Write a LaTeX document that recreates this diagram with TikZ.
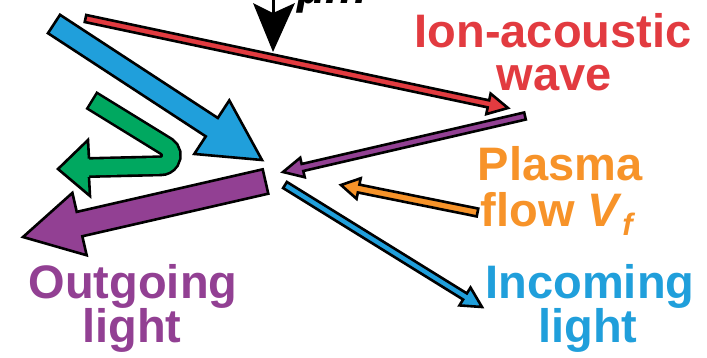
\documentclass[tikz,border=0pt]{standalone}
\usepackage{fontspec}
\setmainfont{Liberation Sans}
\usetikzlibrary{calc}

\definecolor{waveRed}{RGB}{226,59,64}
\definecolor{lightBlue}{RGB}{32,159,219}
\definecolor{flowOrange}{RGB}{247,147,41}
\definecolor{outPurple}{RGB}{146,64,147}
\definecolor{loopGreen}{RGB}{0,168,96}

\tikzset{
  arrowoutline/.style={draw=black, line width=2.6pt, line join=miter},
  captext/.style={font=\bfseries\fontsize{47}{47}\selectfont, anchor=base, inner sep=0pt},
}

% Block arrow from coordinate #1 to coordinate #2:
% #3 half shaft width, #4 half head width, #5 head length, #6 fill colour
\newcommand\fatarrow[6]{%
  \coordinate (#1-base) at ($(#2)!#5!(#1)$);
  \filldraw[arrowoutline, fill=#6]
    ($(#1)!#3!90:(#2)$) -- ($(#1-base)!#3!90:(#2)$) -- ($(#1-base)!#4!90:(#2)$)
    -- (#2)
    -- ($(#1-base)!#4!-90:(#2)$) -- ($(#1-base)!#3!-90:(#2)$) -- ($(#1)!#3!-90:(#2)$)
    -- cycle;}

\begin{document}
\begin{tikzpicture}[x=1pt,y=-1pt]
\useasboundingbox (0,0) rectangle (707,357);

% end points of the arrows
\coordinate (bigBlueS) at (54,24);
\coordinate (bigBlueE) at (262,160);
\coordinate (bigPurS) at (265.5,181.5);
\coordinate (bigPurE) at (23,237);
\coordinate (redS) at (85.5,18.5);
\coordinate (redE) at (508,108);
\coordinate (purS) at (525,116);
\coordinate (purE) at (283,172);
\coordinate (orS) at (477.5,212.5);
\coordinate (orE) at (341,185);
\coordinate (blS) at (285,185);
\coordinate (blE) at (482,307);

% wide arrows on the left
\fatarrow{bigBlueS}{bigBlueE}{11pt}{32pt}{60pt}{lightBlue}
\fatarrow{bigPurS}{bigPurE}{12.5pt}{32pt}{58pt}{outPurple}

% green hairpin arrow
\coordinate (gTail) at (91,100);
\coordinate (gTurn) at (166.5,146.5);
\coordinate (gBase) at (89,167.5);
\draw[line width=21pt, black] (gTail) -- (gTurn)
  arc[start angle=-57, end angle=90, radius=10.5] -- (gBase);
\draw[line width=15.8pt, loopGreen, shorten <=2.6pt] (gTail) -- (gTurn)
  arc[start angle=-57, end angle=90, radius=10.5] -- (gBase);
\coordinate (gTip) at (58,169);
\filldraw[arrowoutline, fill=loopGreen]
  (89,158.5) -- (88,140) -- (gTip) -- (90,196) -- (89,177);

% narrow arrows
\fatarrow{redS}{redE}{3.6pt}{10.5pt}{20pt}{waveRed}
\fatarrow{purS}{purE}{3.6pt}{10pt}{20pt}{outPurple}
\fatarrow{orS}{orE}{4pt}{10.5pt}{18pt}{flowOrange}
\fatarrow{blS}{blE}{3.6pt}{10.5pt}{20pt}{lightBlue}

% black arrow from the top
\coordinate (kTop) at (273,-2);
\coordinate (kTip) at (273,52);
\draw[line width=3pt] (kTop) -- (273,14);
\fill[black] (253,3) -- (273,13) -- (295,3) -- (kTip) -- cycle;
\node[anchor=base west, inner sep=0pt, font=\bfseries\itshape\fontsize{47}{47}\selectfont] (unit) at (297,3) {μm};

% labels
\node[captext, text=waveRed] (ionA) at (553,47) {Ion-acoustic};
\node[captext, text=waveRed] (ionB) at (554,90) {wave};
\node[captext, text=flowOrange] (plA) at (560,180) {Plasma};
\node[captext, text=flowOrange] (plB) at (558,226)
  {flow \textit{V}{\fontsize{31}{31}\selectfont\raisebox{-9pt}{\textit{f}}}};
\node[captext, text=outPurple] (outA) at (133,298) {Outgoing};
\node[captext, text=outPurple] (outB) at (132,342) {light};
\node[captext, text=lightBlue] (inA) at (590,298) {Incoming};
\node[captext, text=lightBlue] (inB) at (588,342) {light};
\end{tikzpicture}
\end{document}
